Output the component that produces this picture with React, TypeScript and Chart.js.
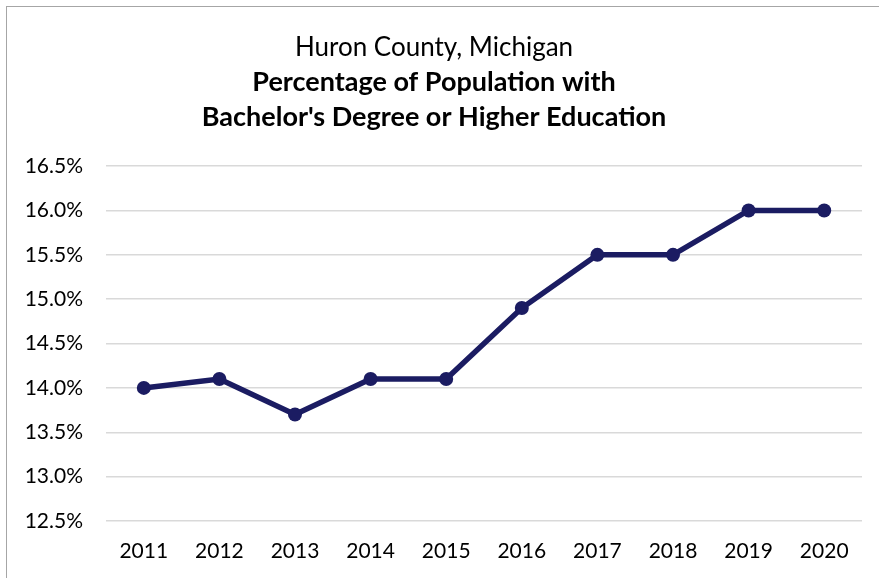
import React, { useEffect, useRef } from "react";
import { Chart, registerables } from "chart.js";

Chart.register(...registerables);

const years = ["2011", "2012", "2013", "2014", "2015", "2016", "2017", "2018", "2019", "2020"];
const bachelorPct = [14.0, 14.1, 13.7, 14.1, 14.1, 14.9, 15.5, 15.5, 16.0, 16.0];
const titleLine = "Huron County, Michigan";
const subtitleLines = ["Percentage of Population with", "Bachelor's Degree or Higher Education"];
const yMin = 12.5;
const yMax = 16.5;
const yStep = 0.5;

const FONT = "Lato, 'Open Sans', sans-serif";

export default function App() {
  const ref = useRef<HTMLCanvasElement | null>(null);
  useEffect(() => {
    if (!ref.current) return;
    const chart = new Chart(ref.current, {
      type: "line",
      data: {
        labels: years,
        datasets: [
          {
            data: bachelorPct,
            borderColor: "#1b1c62",
            backgroundColor: "#1b1c62",
            borderWidth: 5.5,
            pointRadius: 7,
            pointHoverRadius: 7,
            pointBorderWidth: 0,
            pointBackgroundColor: "#1b1c62",
            pointBorderColor: "#1b1c62",
            tension: 0,
          },
        ],
      },
      options: {
        animation: false,
        responsive: false,
        layout: { padding: { left: 6, right: 17, top: 0, bottom: 0 } },
        plugins: {
          legend: { display: false },
          tooltip: { enabled: false },
          title: {
            display: true,
            text: titleLine,
            color: "#000",
            font: { family: FONT, size: 26, weight: "normal", lineHeight: 1.2 },
            padding: { top: 32.4, bottom: 1 },
          },
          subtitle: {
            display: true,
            text: subtitleLines,
            color: "#000",
            font: { family: FONT, size: 27, weight: "bold", lineHeight: 35 / 27 },
            padding: { top: 0, bottom: 31.5 },
          },
        },
        scales: {
          x: {
            offset: true,
            afterFit: (s: any) => {
              s.height = 57;
            },
            grid: { display: false, drawTicks: false },
            border: { display: false },
            ticks: { color: "#000", font: { family: FONT, size: 21 }, padding: 18, maxRotation: 0 },
          },
          y: {
            min: yMin,
            max: yMax,
            afterFit: (s: any) => {
              s.width = 100;
            },
            grid: { color: "#d9d9d9", lineWidth: 1.5, drawTicks: false },
            border: { display: false },
            ticks: {
              stepSize: yStep,
              color: "#000",
              padding: 23,
              font: { family: FONT, size: 21 },
              callback: (v: any) => Number(v).toFixed(1) + "%",
            },
          },
        },
      },
    });
    return () => chart.destroy();
  }, []);
  return (
    <div style={{ position: "fixed", left: 0, top: 0, width: 879, height: 578, background: "#fff" }}>
      <div
        style={{
          position: "absolute",
          left: 6,
          top: 6,
          width: 880,
          height: 580,
          border: "1px solid #a6a6a6",
          boxSizing: "border-box",
        }}
      />
      <canvas ref={ref} width={879} height={578} style={{ position: "absolute", left: 0, top: 0 }} />
    </div>
  );
}
